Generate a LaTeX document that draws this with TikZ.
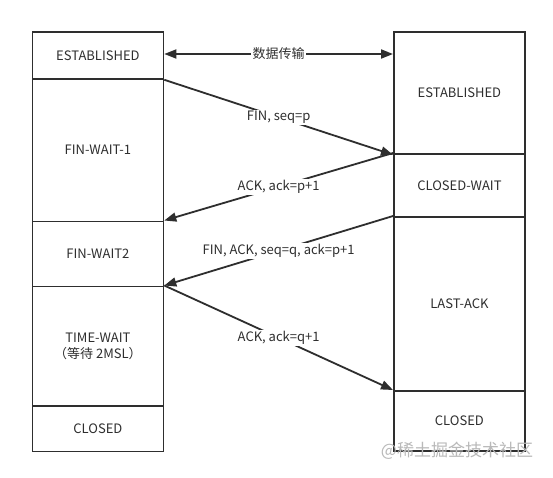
\documentclass[tikz,border=0pt]{standalone}
\usepackage{fontspec}
\setmainfont{Noto Sans CJK SC}
\usetikzlibrary{arrows.meta}
\definecolor{ink}{HTML}{2E2E2E}
\tikzset{
  x=1pt,y=-1pt,
  state/.style={draw=ink,line width=1.8pt,rectangle,anchor=north west,inner sep=0pt,
     minimum width=131pt,font=\fontsize{13}{16}\selectfont,text=ink,align=center},
  msg/.style={draw=ink,line width=1.8pt,-{Triangle[length=12pt,width=9pt]}},
  lbl/.style={fill=white,inner sep=1.5pt,font=\fontsize{13}{16}\selectfont,text=ink},
}
\begin{document}
\begin{tikzpicture}
\useasboundingbox[fill=white] (0,0) rectangle (553,477);
% left column
\node[state,minimum height=47pt] (l1) at (31.5,31) {ESTABLISHED};
\node[state,minimum height=142.5pt] (l2) at (31.5,78) {FIN-WAIT-1};
\node[state,minimum height=65pt] (l3) at (31.5,220.5) {FIN-WAIT2};
\node[state,minimum height=119.5pt] (l4) at (31.5,285.5) {TIME-WAIT\\（等待 2MSL）};
\node[state,minimum height=45.5pt] (l5) at (31.5,405) {CLOSED};
% right column
\node[state,minimum height=122pt] (r1) at (393,31) {ESTABLISHED};
\node[state,minimum height=63pt] (r2) at (393,153) {CLOSED-WAIT};
\node[state,minimum height=174pt] (r3) at (393,216) {LAST-ACK};
\node[state,minimum height=60pt] (r4) at (393,390) {CLOSED};
% messages
\draw[draw=ink,line width=1.8pt,{Triangle[length=12pt,width=9pt]}-{Triangle[length=12pt,width=9pt]}]
  ([yshift=-23pt]l1.north east) -- node[lbl]{数据传输} ([yshift=-23pt]r1.north west);
\draw[msg] (l1.south east) -- node[lbl]{FIN, seq=p} (r1.south west);
\draw[msg] (r2.north west) -- node[lbl]{ACK, ack=p+1} (l3.north east);
\draw[msg] (r3.north west) -- node[lbl]{FIN, ACK, seq=q, ack=p+1} (l4.north east);
\draw[msg] (l4.north east) -- node[lbl]{ACK, ack=q+1} (r4.north west);
% watermark
\node[text=gray!55,font=\fontsize{17}{20}\selectfont] (wm) at (457,451) {@稀土掘金技术社区};
\end{tikzpicture}
\end{document}
